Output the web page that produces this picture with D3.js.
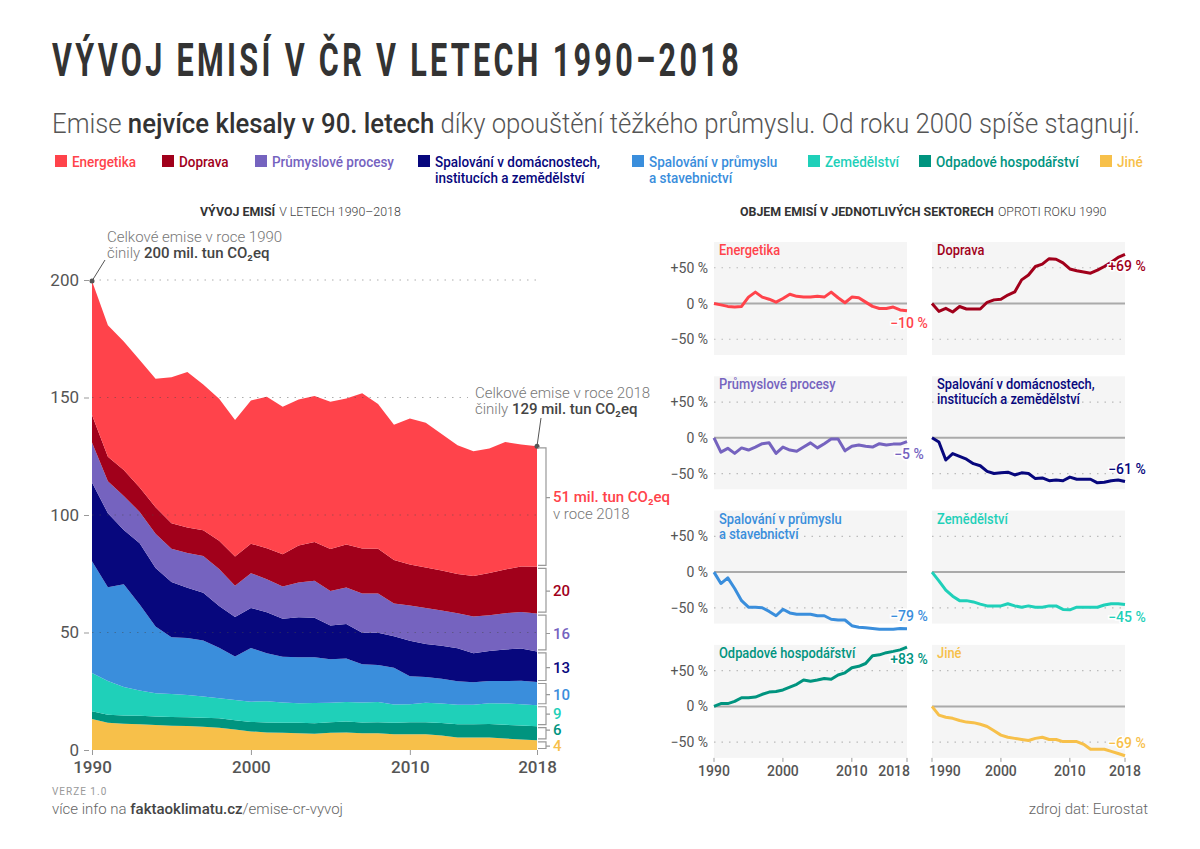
<!DOCTYPE html>
<html><head><meta charset="utf-8">
<script src="https://cdn.jsdelivr.net/npm/d3@7"></script>
<style>
body{margin:0;background:#fff}
svg{display:block;font-family:Roboto,"Noto Sans",sans-serif}
</style></head><body>
<svg id="c" width="1200" height="849"></svg>
<script>
// ---------------- DATA (mil. tun CO2eq) ----------------
const years = [1990,1991,1992,1993,1994,1995,1996,1997,1998,1999,2000,2001,2002,2003,2004,2005,2006,2007,2008,2009,2010,2011,2012,2013,2014,2015,2016,2017,2018];
const sectorNames = ["Energetika","Doprava","Průmyslové procesy","Spalování v domácnostech, institucích a zemědělství","Spalování v průmyslu a stavebnictví","Zemědělství","Odpadové hospodářství","Jiné"];
const sectorColors = ["#ff434b","#a1001b","#7563bf","#07077d","#3a8edc","#1fd0b9","#00947f","#f7c04a"];
const energetika = [57.0,55.9,54.7,54.2,54.7,62.1,66.1,62.1,60.4,58.1,61.0,64.4,62.7,62.1,62.1,62.7,62.1,66.1,61.6,57.6,62.1,61.6,58.1,54.7,53.0,53.0,54.2,51.9,51.3];
const doprava = [11.8,10.5,11.0,10.4,11.3,10.9,10.9,10.9,12.0,12.4,12.5,13.2,13.7,15.7,16.5,17.9,18.3,19.2,19.1,18.5,17.5,17.2,17.0,16.8,17.3,17.9,18.6,19.4,19.9];
const prumysloveProcesy = [17.0,13.6,14.5,13.3,14.6,14.1,14.8,15.6,15.8,13.3,14.8,14.1,13.8,14.8,15.8,14.6,15.6,16.7,16.7,13.9,15.0,15.3,15.0,14.8,15.6,15.3,15.5,15.5,16.1];
const spalovaniDomacnosti = [33.5,31.5,23.1,26.1,24.8,23.5,21.4,20.4,17.8,16.8,17.1,17.4,16.1,17.1,16.8,14.4,14.7,13.4,13.7,13.4,15.1,14.1,14.1,14.1,12.4,12.7,13.4,13.7,13.0];
const spalovaniPrumysl = [47.5,39.9,43.7,36.6,28.5,24.2,24.2,23.8,21.4,18.5,22.8,20.4,19.5,19.5,19.5,18.5,18.5,16.2,15.7,15.7,11.9,10.9,10.5,10.0,9.5,9.5,9.5,10.0,9.9];
const zemedelstvi = [16.3,14.3,12.2,10.8,9.8,9.8,9.5,9.0,8.6,8.6,8.6,9.1,8.6,8.3,8.6,8.3,8.3,8.6,8.6,7.8,7.7,8.3,8.3,8.3,8.3,8.8,9.1,9.1,8.9];
const odpady = [3.30,3.43,3.43,3.53,3.70,3.70,3.73,3.86,3.96,3.99,4.06,4.19,4.32,4.52,4.46,4.52,4.59,4.55,4.75,4.85,5.08,5.15,5.28,5.64,5.68,5.78,5.84,5.91,6.04];
const jine = [13.2,11.6,11.2,11.0,10.6,10.3,10.2,9.9,9.5,8.7,7.9,7.5,7.3,7.1,6.9,7.3,7.5,7.1,7.1,6.7,6.7,6.7,6.2,5.3,5.3,5.3,4.9,4.5,4.1];
const seriesValues = [energetika,doprava,prumysloveProcesy,spalovaniDomacnosti,spalovaniPrumysl,zemedelstvi,odpady,jine];
const yTicks = [0,50,100,150,200];
const xTickYears = [1990,2000,2010,2018];
const pctTicks = [50,0,-50];
const legendLabels = [["Energetika"],["Doprava"],["Průmyslové procesy"],["Spalování v domácnostech,","institucích a zemědělství"],["Spalování v průmyslu","a stavebnictví"],["Zemědělství"],["Odpadové hospodářství"],["Jiné"]];

// ---------------- helpers ----------------
const svg = d3.select("#c");
const MINUS = "\u2212";
function condense(sel, k){
  sel.each(function(){
    const w = this.getComputedTextLength();
    d3.select(this).attr("textLength", w*k).attr("lengthAdjust","spacingAndGlyphs");
  });
}

// ---------------- Title ----------------
svg.append("text").attr("x",52).attr("y",76)
  .attr("font-size",46).attr("font-weight",700).attr("fill","#333")
  .attr("letter-spacing",5)
  .attr("textLength",690).attr("lengthAdjust","spacingAndGlyphs")
  .text("VÝVOJ EMISÍ V ČR V LETECH 1990–2018");

const sub = svg.append("text").attr("x",52).attr("y",133)
  .attr("font-size",27).attr("font-weight",300).attr("fill","#555")
  .attr("textLength",1088).attr("lengthAdjust","spacingAndGlyphs");
sub.append("tspan").text("Emise ");
sub.append("tspan").attr("font-weight",500).attr("fill","#333").text("nejvíce klesaly v 90. letech");
sub.append("tspan").text(" díky opouštění těžkého průmyslu. Od roku 2000 spíše stagnují.");

// ---------------- Legend ----------------
const legendX = [55,162,255,418,632,808,919,1100];
const lg = svg.append("g");
legendLabels.forEach((lines,i)=>{
  lg.append("rect").attr("x",legendX[i]).attr("y",155).attr("width",12).attr("height",12).attr("fill",sectorColors[i]);
  lines.forEach((t,j)=>{
    lg.append("text").attr("x",legendX[i]+17).attr("y",167+j*16)
      .attr("font-size",15.5).attr("font-weight",500).attr("fill",sectorColors[i])
      .text(t).call(condense,0.87);
  });
});

// ---------------- Section titles ----------------
function sectionTitle(x, bold, rest){
  const t1 = svg.append("text").attr("x",x).attr("y",216).attr("font-size",12.4).attr("font-weight",700).attr("fill","#333").text(bold);
  const w1 = t1.node().getComputedTextLength();
  svg.append("text").attr("x",x+w1+4).attr("y",216).attr("font-size",12.4).attr("font-weight",300).attr("fill","#444").text(rest);
}
sectionTitle(200,"VÝVOJ EMISÍ","V LETECH 1990–2018");
sectionTitle(740,"OBJEM EMISÍ V JEDNOTLIVÝCH SEKTORECH","OPROTI ROKU 1990");

// ---------------- Stacked area chart ----------------
const x = d3.scaleLinear().domain([1990,2018]).range([92,537]);
const y = d3.scaleLinear().domain([0,200]).range([750,280]);
const keys = sectorNames.slice().reverse(); // bottom -> top
const table = years.map((yr,i)=>{
  const row = {year:yr};
  sectorNames.forEach((n,k)=>row[n]=seriesValues[k][i]);
  return row;
});
const stacked = d3.stack().keys(keys)(table);
const area = d3.area().x(d=>x(d.data.year)).y0(d=>y(d[0])).y1(d=>y(d[1]));
const colorOf = n => sectorColors[sectorNames.indexOf(n)];
svg.append("g").selectAll("path").data(stacked).join("path")
  .attr("d",area).attr("fill",d=>colorOf(d.key));

// gridlines
const grid = svg.append("g");
yTicks.filter(t=>t>0).forEach(t=>{
  grid.append("line").attr("x1",92).attr("x2",t===150?468:537)
    .attr("y1",y(t)).attr("y2",y(t))
    .attr("stroke","rgba(70,70,70,0.45)").attr("stroke-width",1.2).attr("stroke-dasharray","1.5,6");
});
// y axis
const yAxis = d3.axisLeft(y).tickValues(yTicks).tickSize(5).tickPadding(5);
const ya = svg.append("g").attr("transform","translate(89,0)").call(yAxis);
ya.select(".domain").remove();
ya.selectAll(".tick line").attr("stroke","#999");
ya.selectAll(".tick text").attr("font-size",17).attr("fill","#555").attr("font-family","Roboto");
// x axis
const xAxis = d3.axisBottom(x).tickValues(xTickYears).tickFormat(d3.format("d")).tickSize(5).tickPadding(6);
const xa = svg.append("g").attr("transform","translate(0,750)").call(xAxis);
xa.select(".domain").remove();
xa.selectAll(".tick line").attr("stroke","#999");
xa.selectAll(".tick text").attr("font-size",17).attr("font-weight",500).attr("fill","#555").attr("font-family","Roboto");

// totals annotations
const total = i => d3.sum(seriesValues, s=>s[i]);
const n = years.length-1;
const ann = svg.append("g").attr("font-size",15).attr("fill","#777").attr("font-weight",300);
function annot(px,py,lx,ly,tx,ty,yr,val){
  ann.append("line").attr("x1",px).attr("y1",py).attr("x2",lx).attr("y2",ly).attr("stroke","#555").attr("stroke-width",1);
  ann.append("circle").attr("cx",px).attr("cy",py).attr("r",2.5).attr("fill","#555");
  ann.append("text").attr("x",tx).attr("y",ty).text("Celkové emise v roce "+yr);
  const t2 = ann.append("text").attr("x",tx).attr("y",ty+16);
  t2.append("tspan").text("činily ");
  t2.append("tspan").attr("font-weight",500).attr("fill","#444").text(Math.round(val)+" mil. tun CO₂eq");
}
annot(x(1990),y(total(0)),105,260,107,242,1990,total(0));
annot(x(2018),y(total(n)),541,418,475,398,2018,total(n));

// brackets for 2018 values (bottom layer first, labels kept apart)
const br = svg.append("g");
const bx = x(2018);
let prevLabelY = Infinity;
stacked.forEach(layer=>{
  const d = layer[n];
  const yt = y(d[1])+1.5, yb = y(d[0])-1.5, ym=(yt+yb)/2;
  const c = colorOf(layer.key);
  const isTop = layer.key===sectorNames[0];
  let tickY = isTop? ym-9 : Math.min(ym+1, prevLabelY-16);
  prevLabelY = tickY;
  br.append("path").attr("d",`M${bx+1},${yt}H${bx+9}V${yb}H${bx+1}M${bx+9},${tickY}H${bx+13}`)
    .attr("fill","none").attr("stroke","#999").attr("stroke-width",1.2);
  const v = Math.round(d[1]-d[0]);
  if(isTop){
    br.append("text").attr("x",bx+16).attr("y",tickY+4).attr("font-size",15).attr("font-weight",500).attr("fill",c).text(v+" mil. tun CO₂eq");
    br.append("text").attr("x",bx+16).attr("y",tickY+21).attr("font-size",15).attr("font-weight",300).attr("fill","#777").text("v roce 2018");
  } else {
    br.append("text").attr("x",bx+16).attr("y",tickY+5).attr("font-size",15).attr("font-weight",500).attr("fill",c).text(v);
  }
});

// ---------------- Small multiples ----------------
const colLeft = [714,932], panelW = 193, panelH = 113, rowTop0 = 242, rowStep = 134.3;
const panelTitles = [["Energetika"],["Doprava"],["Průmyslové procesy"],["Spalování v domácnostech,","institucích a zemědělství"],["Spalování v průmyslu","a stavebnictví"],["Zemědělství"],["Odpadové hospodářství"],["Jiné"]];
sectorNames.forEach((name,i)=>{
  const col = i%2, row = Math.floor(i/2);
  const L = colLeft[col], T = rowTop0 + row*rowStep;
  const sx = d3.scaleLinear().domain([1990,2018]).range([L,L+panelW]);
  const sy = d3.scaleLinear().domain([-72,86]).range([T+panelH,T]);
  const g = svg.append("g");
  g.append("rect").attr("x",L).attr("y",T).attr("width",panelW).attr("height",panelH).attr("fill","#f5f5f5");
  pctTicks.forEach(p=>{
    g.append("line").attr("x1",L).attr("x2",L+panelW).attr("y1",sy(p)).attr("y2",sy(p))
      .attr("stroke",p===0?"#aaa":"#bbb").attr("stroke-width",p===0?2:1.2)
      .attr("stroke-dasharray",p===0?null:"1.5,6");
    if(col===0){
      g.append("text").attr("x",L-6).attr("y",sy(p)+5).attr("text-anchor","end")
        .attr("font-size",14).attr("fill","#555")
        .text(p===0?"0 %":(p>0?"+":MINUS)+Math.abs(p)+" %");
    }
  });
  const vals = seriesValues[i];
  const pts = vals.map((v,k)=>({year:years[k], pct:(v/vals[0]-1)*100}));
  g.append("path").datum(pts)
    .attr("d",d3.line().x(d=>sx(d.year)).y(d=>sy(d.pct)))
    .attr("fill","none").attr("stroke",sectorColors[i]).attr("stroke-width",3).attr("stroke-linejoin","round");
  panelTitles[i].forEach((t,j)=>{
    g.append("text").attr("x",L+5).attr("y",T+13+j*15).attr("font-size",14).attr("font-weight",500)
      .attr("fill",sectorColors[i]).text(t).call(condense,0.92);
  });
  const last = pts[pts.length-1];
  const pv = Math.round(last.pct);
  g.append("text").attr("x",L+panelW+2).attr("y",sy(last.pct)+(last.pct<-55?-8:17))
    .attr("text-anchor","middle").attr("font-size",14).attr("font-weight",500)
    .attr("fill",sectorColors[i]).attr("stroke","#fff").attr("stroke-width",3).attr("paint-order","stroke")
    .text((pv>0?"+":MINUS)+Math.abs(pv)+" %");
  if(row===3){
    xTickYears.forEach(yr=>{
      let anchor = "middle", dx = 0;
      if(col===0 && yr===2018){anchor="end"; dx=3;}
      if(col===1 && yr===1990){anchor="start"; dx=-3;}
      g.append("line").attr("x1",sx(yr)).attr("x2",sx(yr)).attr("y1",T+panelH).attr("y2",T+panelH+4).attr("stroke","#999");
      g.append("text").attr("x",sx(yr)+dx).attr("y",T+panelH+18).attr("text-anchor",anchor)
        .attr("font-size",14).attr("font-weight",500).attr("fill","#555").text(yr);
    });
  }
});

// ---------------- Footer ----------------
svg.append("text").attr("x",52).attr("y",795).attr("font-size",10).attr("fill","#999").attr("letter-spacing",1).text("VERZE 1.0");
const ft = svg.append("text").attr("x",52).attr("y",814).attr("font-size",15).attr("fill","#666").attr("font-weight",300);
ft.append("tspan").text("více info na ");
ft.append("tspan").attr("font-weight",500).attr("fill","#444").text("faktaoklimatu.cz");
ft.append("tspan").text("/emise-cr-vyvoj");
svg.append("text").attr("x",1148).attr("y",814).attr("text-anchor","end").attr("font-size",15).attr("fill","#666").attr("font-weight",300).text("zdroj dat: Eurostat");
</script>
</body></html>
